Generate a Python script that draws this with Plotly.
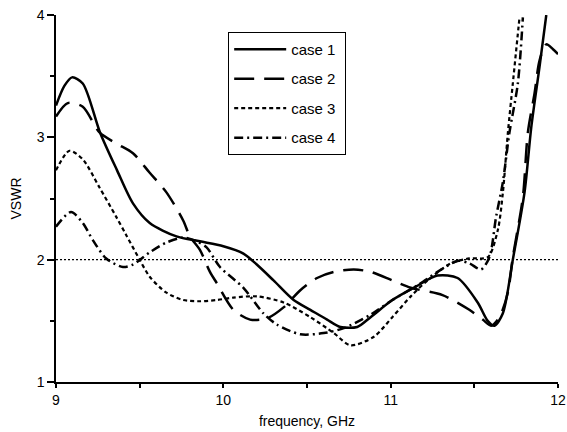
import plotly.graph_objects as go

# ---- data ----
freq1 = [9.0, 9.05, 9.096, 9.16, 9.263, 9.365, 9.46, 9.56, 9.72, 9.86, 10.0, 10.12, 10.2, 10.3, 10.42,
         10.52, 10.62, 10.70, 10.80, 10.88, 11.01, 11.15, 11.28, 11.40, 11.52, 11.58, 11.62, 11.67,
         11.73, 11.80, 11.84, 11.89, 11.93]
vswr1 = [3.26, 3.42, 3.49, 3.44, 3.04, 2.73, 2.46, 2.30, 2.19, 2.15, 2.11, 2.05, 1.96, 1.83, 1.67,
         1.59, 1.51, 1.45, 1.45, 1.53, 1.67, 1.78, 1.87, 1.85, 1.65, 1.50, 1.46, 1.56,
         2.0, 2.55, 3.08, 3.58, 4.0]

freq2 = [9.0, 9.07, 9.16, 9.26, 9.36, 9.46, 9.56, 9.66, 9.76, 9.80, 9.86, 9.92, 9.96, 10.06, 10.16,
         10.26, 10.36, 10.46, 10.56, 10.66, 10.78, 10.88, 11.01, 11.12, 11.31, 11.47, 11.55, 11.60,
         11.65, 11.70, 11.73, 11.79, 11.82, 11.86, 11.89, 11.93, 11.97, 12.0]
vswr2 = [3.17, 3.28, 3.25, 3.04, 2.95, 2.87, 2.71, 2.55, 2.32, 2.19, 2.08, 1.90, 1.81, 1.59, 1.51,
         1.52, 1.61, 1.75, 1.85, 1.90, 1.92, 1.90, 1.83, 1.77, 1.71, 1.59, 1.51, 1.46,
         1.53, 1.73, 2.02, 2.51, 3.04, 3.36, 3.63, 3.76, 3.72, 3.68]

freq3 = [9.0, 9.08, 9.16, 9.26, 9.36, 9.42, 9.50, 9.56, 9.66, 9.76, 9.86, 9.96, 10.06, 10.20, 10.36,
         10.52, 10.66, 10.76, 10.90, 11.01, 11.12, 11.22, 11.36, 11.47, 11.58, 11.64, 11.67, 11.70,
         11.73, 11.77]
vswr3 = [2.73, 2.89, 2.82, 2.59, 2.35, 2.20, 2.0, 1.86, 1.73, 1.67, 1.66, 1.67, 1.69, 1.70, 1.65,
         1.53, 1.40, 1.30, 1.37, 1.53, 1.70, 1.83, 1.97, 2.01, 2.02, 2.24, 2.54, 3.03,
         3.44, 3.98]

freq4 = [9.0, 9.09, 9.16, 9.22, 9.30, 9.40, 9.46, 9.56, 9.66, 9.76, 9.84, 9.90, 9.98, 10.12, 10.24,
         10.32, 10.46, 10.60, 10.72, 10.88, 11.01, 11.16, 11.28, 11.40, 11.47, 11.54, 11.59, 11.63,
         11.67, 11.71, 11.76, 11.79]
vswr4 = [2.27, 2.39, 2.30, 2.16, 2.01, 1.94, 1.96, 2.06, 2.14, 2.18, 2.15, 2.10, 1.94, 1.77, 1.56,
         1.47, 1.39, 1.40, 1.44, 1.55, 1.67, 1.79, 1.90, 1.99, 1.97, 1.92, 2.02, 2.35,
         2.63, 3.04, 3.44, 3.98]

ref_x = [9, 12]
ref_y = [2, 2]

names = ["case 1", "case 2", "case 3", "case 4"]
FONT = "Liberation Sans, Arial, Helvetica, sans-serif"

fig = go.Figure()
fig.add_trace(go.Scatter(x=ref_x, y=ref_y, mode="lines", showlegend=False, hoverinfo="skip",
                         line=dict(color="black", width=1.2, dash="2px,2px")))

styles = [
    dict(dash="solid", width=2.5),
    dict(dash="20px,10px", width=2.5),
    dict(dash="4px,3px", width=2.2),
    dict(dash="9px,4px,2px,4px", width=2.5),
]
for i, (fx, vy) in enumerate([(freq1, vswr1), (freq2, vswr2), (freq3, vswr3), (freq4, vswr4)]):
    fig.add_trace(go.Scatter(x=fx, y=vy, mode="lines", name=names[i] + "\u00a0", legendgroup=names[i],
                             line=dict(color="black", shape="spline", smoothing=0.8, **styles[i])))

axis_common = dict(showgrid=False, zeroline=False, showline=True, linecolor="black", linewidth=1.5,
                   ticks="outside", tickcolor="black", tickwidth=1.5, automargin=False,
                   ticklabeloverflow="allow",
                   tickfont=dict(family=FONT, size=14, color="black"))

fig.update_xaxes(range=[9, 12], tickvals=[9, 10, 11, 12], ticklen=4,
                 minor=dict(dtick=0.5, tick0=9, ticks="outside", ticklen=4, tickcolor="black", tickwidth=1.5),
                 title=dict(text="frequency, GHz", font=dict(family=FONT, size=14, color="black"), standoff=10),
                 **axis_common)
fig.update_yaxes(range=[1, 4], tickvals=[1, 2, 3, 4], ticklen=7,
                 minor=dict(dtick=0.5, tick0=1, ticks="outside", ticklen=4, tickcolor="black", tickwidth=1.5),
                 title=dict(text="VSWR", font=dict(family=FONT, size=14, color="black"), standoff=12),
                 **axis_common)

fig.update_layout(
    width=567, height=432,
    margin=dict(l=56, r=9, t=15, b=50),
    paper_bgcolor="white", plot_bgcolor="white",
    font=dict(family=FONT, size=14, color="black"),
    legend=dict(x=0.343, y=0.954, xanchor="left", yanchor="top", bgcolor="white",
                bordercolor="black", borderwidth=1, font=dict(family=FONT, size=15, color="black"),
                tracegroupgap=7, itemwidth=52),
)

# remove the browser's default 8px body margin so the figure fills the window exactly
fig.write_html("out.html", config={"displayModeBar": False},
               post_script="document.body.style.margin='0';document.body.style.overflow='hidden';")
